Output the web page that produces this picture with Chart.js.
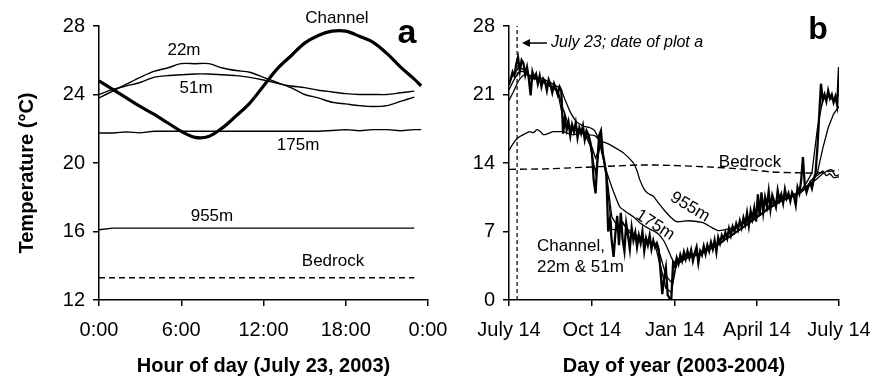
<!DOCTYPE html>
<html>
<head>
<meta charset="utf-8">
<script src="https://cdn.jsdelivr.net/npm/chart.js@4.4.0/dist/chart.umd.min.js"></script>
<style>
body{margin:0;background:#fff;}
#wrap{position:relative;width:875px;height:383px;background:#fff;}
canvas{position:absolute;top:0;}
#ca{left:0;}
#cb{left:455px;}
</style>
</head>
<body>
<div id="wrap">
<canvas id="ca" width="455" height="383"></canvas>
<canvas id="cb" width="420" height="383"></canvas>
</div>
<script>
// ---- panel a: one day, hourly ----
const hoursA = [0,1,2,3,4,5,6,7,8,9,10,11,12,13,14,15,16,17,18,19,20,21,22,23];
const hoursLong = [0,1,2,3,4,5,6,7,8,9,10,11,12,13,14,15,16,17,18,19,20,21,22,23,23.5];
const hourTicks = [0,6,12,18,24];
const hourLabels = ["0:00","6:00","12:00","18:00","0:00"];

const channelA = [24.8,24.3,23.8,23.3,22.85,22.35,21.85,21.5,21.55,22.05,22.75,23.5,24.5,25.5,26.25,27.0,27.45,27.7,27.7,27.4,27.05,26.4,25.6,24.9,24.5];
const m22A = [23.8,24.2,24.6,25.0,25.35,25.55,25.8,25.8,25.8,25.55,25.4,25.3,25.0,24.7,24.4,24.0,23.8,23.55,23.45,23.35,23.3,23.35,23.6,23.85];
const m51A = [24.0,24.3,24.5,24.7,25.0,25.1,25.15,25.2,25.2,25.15,25.1,25.0,24.85,24.65,24.5,24.4,24.25,24.15,24.05,24.0,24.0,24.0,24.1,24.2];
const m175A = [21.75,21.75,21.82,21.76,21.85,21.85,21.85,21.85,21.85,21.85,21.85,21.85,21.85,21.85,21.85,21.85,21.85,21.9,21.95,21.88,21.95,21.95,21.88,21.95,21.95];
const m955A = [16.1,16.2,16.2,16.2,16.2,16.2,16.2,16.2,16.2,16.2,16.2,16.2,16.2,16.2,16.2,16.2,16.2,16.2,16.2,16.2,16.2,16.2,16.2,16.2];
const bedrockA = [13.3,13.3,13.3,13.3,13.3,13.3,13.3,13.3,13.3,13.3,13.3,13.3,13.3,13.3,13.3,13.3,13.3,13.3,13.3,13.3,13.3,13.3,13.3,13.3];

// ---- panel b: days since July 14, 2003 ----
const quarterDays = [0,92,184,275,366];
const quarterLabels = ["July 14","Oct 14","Jan 14","April 14","July 14"];
const plotADay = 9;

const channelDays = [0,2,4,6,8,10,12,14,16,18,20,22,24,26,28,30,32,34,36,38,40,42,44,46,48,50,52,54,56,58,
  60,62,64,66,68,70,72,74,76,78,80,82,84,86,88,90,92,94,96,98,100,102,104,106,108,110,112,114,116,118,
  120,122,124,126,128,130,132,134,136,138,140,142,144,146,148,150,152,154,156,158,160,162,164,166,168,170,172,174,176,178,
  180,182,184,186,188,190,192,194,196,198,200,202,204,206,208,210,212,214,216,218,220,222,224,226,228,230,232,234,236,238,
  240,242,244,246,248,250,252,254,256,258,260,262,264,266,268,270,272,274,276,278,280,282,284,286,288,290,292,294,296,298,
  300,302,304,306,308,310,312,314,316,318,320,322,324,326,328,330,332,334,336,338,340,342,344,346,348,350,352,354,356,358,
  360,362,364,366];
const channelB = [22.0,22.6,23.3,22.9,24.1,24.8,23.4,24.5,24.2,23.0,
  23.8,22.6,20.9,23.3,22.7,23.1,22.1,22.9,21.8,22.6,
  22.3,21.4,22.5,22.0,21.2,22.1,21.6,21.0,21.8,21.4,
  17.0,18.6,17.4,18.2,16.8,17.9,17.2,18.1,16.6,17.6,
  17.0,17.8,16.4,17.3,16.9,16.2,15.0,12.2,10.9,14.2,
  16.8,17.3,15.0,14.0,12.8,7.0,8.2,6.0,4.4,6.8,
  8.6,5.6,8.9,6.2,5.0,7.8,6.6,5.2,7.4,6.1,
  6.9,5.4,6.6,5.8,7.0,5.0,6.3,5.6,6.6,5.2,
  6.1,5.4,5.8,5.2,3.0,0.6,2.2,3.3,0.5,0.2,
  0.1,3.8,3.4,4.3,3.7,4.6,4.0,4.9,4.2,5.0,
  4.3,5.1,4.0,4.8,5.4,3.8,5.0,4.6,5.5,4.7,
  5.6,5.0,5.9,5.2,6.1,4.9,6.4,5.8,6.6,6.2,
  6.9,6.3,7.3,6.6,7.5,7.0,7.8,7.2,8.1,7.4,
  8.4,7.7,8.9,7.6,9.1,8.3,9.4,8.0,10.8,8.6,
  11.0,9.0,10.5,9.6,11.1,9.3,10.7,10.1,9.5,11.2,
  10.2,10.8,9.9,11.3,10.4,10.9,10.1,11.0,10.6,9.7,
  11.5,10.9,12.2,14.6,11.8,11.0,11.6,12.0,11.4,12.3,
  13.0,15.5,18.8,22.1,20.4,21.0,20.3,21.4,20.6,21.0,
  20.2,20.8,19.9,23.8];

const wellDays = [0,6,12,18,24,30,36,42,48,54,60,66,72,78,84,90,96,102,108,114,120,126,132,138,144,150,156,162,168,174,180,186,192,198,204,210,216,222,228,234,240,246,252,258,264,270,276,282,288,294,300,306,312,318,324,330,336,342,348,354,360,366];
const m22B = [22.3,23.2,23.8,23.4,22.6,22.6,22.3,22.0,21.7,21.3,18.5,17.6,17.5,17.3,17.0,15.8,13.0,16.5,12.5,7.2,7.2,8.0,7.0,6.6,6.3,6.0,5.8,5.6,3.5,1.2,0.8,3.8,4.2,4.5,4.7,4.5,4.9,5.2,5.5,5.7,6.2,6.6,7.0,7.3,7.8,8.2,8.5,8.9,9.6,10.0,10.2,10.4,10.6,10.9,11.2,12.0,13.0,17.5,20.5,20.8,20.4,21.0];
const m51B = [21.5,22.6,23.4,23.3,22.8,22.6,22.4,22.1,21.8,21.5,19.5,17.9,17.6,17.4,17.1,16.2,14.5,15.8,13.0,8.5,7.6,7.8,7.2,6.8,6.5,6.2,6.0,5.8,4.5,2.5,1.8,3.6,4.0,4.3,4.6,4.7,4.9,5.2,5.5,5.8,6.2,6.5,6.9,7.3,7.7,8.1,8.5,8.9,9.4,9.8,10.1,10.3,10.5,10.7,11.0,11.5,12.0,13.0,15.5,17.6,19.0,19.8];

const m175Days = [0,5,10,15,20,30,40,50,57,62,68,75,82,90,95,100,104,108,115,123,130,138,145,155,165,172,178,182,186,195,210,225,240,255,270,285,300,315,325,332,338,343,348,352,356,360,366];
const m175B = [20.4,21.3,22.3,22.9,23.0,22.8,22.5,22.0,21.6,20.5,19.2,18.2,17.8,17.6,17.3,16.2,14.6,13.2,11.3,9.5,9.0,8.5,7.9,7.3,6.8,6.0,4.8,4.0,3.8,4.2,4.6,5.3,6.2,7.1,8.1,9.1,10.0,10.6,11.2,11.8,12.5,12.8,13.2,12.7,12.9,12.5,12.6];

const m955Days = [0,4,8,12,18,23,27,31,35,38,43,49,55,60,66,71,80,87,95,101,109,117,126,132,138,142,145,150,154,160,165,172,180,186,200,215,225,232,240,256,279,300,323,339,348,353,358,362,366];
const m955B = [15.3,15.9,16.4,16.7,17.0,17.2,17.1,17.4,17.2,16.9,17.0,17.2,17.2,17.2,17.0,16.9,17.0,16.9,16.8,16.3,16.0,15.6,15.1,14.6,14.0,13.2,12.3,11.3,10.9,10.6,10.0,9.2,8.4,8.0,8.1,7.9,7.4,7.1,7.2,7.6,8.8,10.0,11.0,12.2,12.9,13.2,13.3,12.7,12.8];

const bedrockDays = [0,40,80,120,145,180,220,256,290,320,345,366];
const bedrockB = [13.35,13.4,13.55,13.7,13.8,13.75,13.6,13.4,13.1,13.0,13.0,13.3];

// ---- helpers ----
const FAM = '"Liberation Sans", Arial, Helvetica, sans-serif';
const tickFont = {family: FAM, size: 20};
const titleFont = {family: FAM, size: 20, weight: 'bold'};
const lab = '17px ' + FAM;

function pts(xs, ys) { return ys.map((y, i) => ({x: xs[i], y: y})); }

function line(xs, ys, w, extra) {
  return Object.assign({data: pts(xs, ys), borderColor: '#000', borderWidth: w, pointRadius: 0, fill: false, tension: 0}, extra || {});
}

function axisX(min, max, title, tickVals, tickText) {
  return {
    type: 'linear', min: min, max: max,
    afterBuildTicks: s => { s.ticks = tickVals.map(v => ({value: v})); },
    ticks: {font: tickFont, color: '#000', padding: 12, maxRotation: 0, autoSkip: false,
      callback: (v, i) => tickText[i]},
    grid: {drawOnChartArea: false, drawTicks: true, tickLength: 6, color: '#000', lineWidth: 1.5},
    border: {display: true, color: '#000', width: 1.5},
    title: {display: true, text: title, font: titleFont, color: '#000', padding: {top: 0, bottom: 5}},
    // fixed axis band; end labels may overhang the plot like the original
    afterFit: s => { s.height = 83; s.paddingLeft = 0; s.paddingRight = 0; }
  };
}

function axisY(min, max, step, w) {
  return {
    type: 'linear', min: min, max: max,
    ticks: {stepSize: step, font: tickFont, color: '#000', padding: 8},
    grid: {drawOnChartArea: false, drawTicks: true, tickLength: 6, color: '#000', lineWidth: 1.5},
    border: {display: true, color: '#000', width: 1.5},
    afterFit: s => { s.width = w; s.paddingTop = 0; s.paddingBottom = 0; }
  };
}

// in-plot labels, placed in data units
function textPlugin(items, extra) {
  return {
    id: 'txt',
    afterDraw(chart) {
      const {ctx, scales: {x, y}} = chart;
      ctx.save();
      ctx.fillStyle = '#000';
      ctx.textBaseline = 'middle';
      items.forEach(it => {
        ctx.font = it.font;
        ctx.textAlign = it.align || 'center';
        ctx.save();
        ctx.translate(x.getPixelForValue(it.x), y.getPixelForValue(it.y));
        if (it.rot) ctx.rotate(it.rot * Math.PI / 180);
        ctx.fillText(it.text, 0, 0);
        ctx.restore();
      });
      if (extra) extra(chart, ctx);
      ctx.restore();
    }
  };
}

// ---- chart a ----
new Chart(document.getElementById('ca'), {
  type: 'line',
  data: {datasets: [
    line(hoursA, bedrockA, 1.4, {borderDash: [6, 4]}),
    line(hoursA, m955A, 1.4),
    line(hoursLong, m175A, 1.4),
    line(hoursA, m51A, 1.4, {tension: 0.3}),
    line(hoursA, m22A, 1.4, {tension: 0.3}),
    line(hoursLong, channelA, 3.2, {tension: 0.35})
  ]},
  options: {
    responsive: false, animation: false,
    layout: {padding: {left: 0, right: 27, top: 26, bottom: 0}},
    plugins: {legend: {display: false}, tooltip: {enabled: false}},
    scales: {
      x: axisX(0, 24, 'Hour of day (July 23, 2003)', hourTicks, hourLabels),
      y: axisY(12, 28, 4, 99)
    }
  },
  plugins: [textPlugin([
    {text: 'Channel', x: 17.36, y: 28.47, font: lab},
    {text: '22m', x: 6.2, y: 26.6, font: lab},
    {text: '51m', x: 7.08, y: 24.38, font: lab},
    {text: '175m', x: 14.52, y: 21.05, font: lab},
    {text: '955m', x: 8.24, y: 16.9, font: lab},
    {text: 'Bedrock', x: 17.07, y: 14.28, font: lab},
    {text: 'a', x: 22.47, y: 27.55, font: 'bold 34px ' + FAM}
  ], (chart, ctx) => {
    const a = chart.chartArea;
    ctx.font = 'bold 20px ' + FAM;
    ctx.textAlign = 'center';
    ctx.translate(27, (a.top + a.bottom) / 2 + 10);
    ctx.rotate(-Math.PI / 2);
    ctx.fillText('Temperature (°C)', 0, 0);
  })]
});

// ---- chart b ----
new Chart(document.getElementById('cb'), {
  type: 'line',
  data: {datasets: [
    line([plotADay, plotADay], [0, 28], 1.2, {borderDash: [4, 3]}),
    line(bedrockDays, bedrockB, 1.4, {borderDash: [7, 4], tension: 0.3}),
    line(m955Days, m955B, 1.3, {tension: 0.2}),
    line(m175Days, m175B, 1.3, {tension: 0.2}),
    line(wellDays, m51B, 1.3),
    line(wellDays, m22B, 1.3),
    line(channelDays, channelB, 2.3)
  ]},
  options: {
    responsive: false, animation: false,
    layout: {padding: {left: 0, right: 36, top: 26, bottom: 0}},
    plugins: {legend: {display: false}, tooltip: {enabled: false}},
    scales: {
      x: axisX(0, 366, 'Day of year (2003-2004)', quarterDays, quarterLabels),
      y: axisY(0, 28, 7, 54)
    }
  },
  plugins: [textPlugin([
    {text: 'Bedrock', x: 267.3, y: 14.1, font: lab},
    {text: '955m', x: 200.7, y: 9.5, font: lab, rot: 31},
    {text: '175m', x: 161.9, y: 7.66, font: lab, rot: 33},
    {text: 'Channel,', x: 31, y: 5.5, font: lab, align: 'left'},
    {text: '22m & 51m', x: 31, y: 3.37, font: lab, align: 'left'},
    {text: 'July 23; date of plot a', x: 46.6, y: 26.26, font: 'italic 16px ' + FAM, align: 'left'},
    {text: 'b', x: 342.7, y: 27.6, font: 'bold 32px ' + FAM}
  ], (chart, ctx) => {
    const {x, y} = chart.scales;
    const x0 = x.getPixelForValue(14.4), x1 = x.getPixelForValue(42.1), yy = y.getPixelForValue(26.26);
    ctx.strokeStyle = '#000';
    ctx.lineWidth = 1.5;
    ctx.beginPath();
    ctx.moveTo(x0 + 6, yy);
    ctx.lineTo(x1, yy);
    ctx.stroke();
    ctx.beginPath();
    ctx.moveTo(x0, yy);
    ctx.lineTo(x0 + 8, yy - 4);
    ctx.lineTo(x0 + 8, yy + 4);
    ctx.closePath();
    ctx.fill();
  })]
});
</script>
</body>
</html>
